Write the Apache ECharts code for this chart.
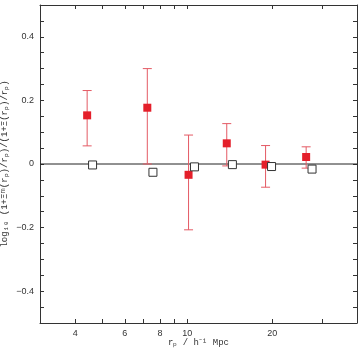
<!DOCTYPE html>
<html>
<head>
<meta charset="utf-8">
<script src="https://cdn.jsdelivr.net/npm/echarts@6/dist/echarts.min.js"></script>
<style>
  html, body { margin: 0; padding: 0; background: #fff; }
  #chart { width: 363px; height: 351px; }
</style>
</head>
<body>
<div id="chart"></div>
<script>
  // measured points (red, with errors)
  var rpMeas = [4.41, 7.21, 10.1, 13.8, 18.95, 26.4];
  var ratioMeas = [0.153, 0.177, -0.034, 0.065, -0.002, 0.022];
  var errLow = [0.057, 0.0, -0.207, -0.006, -0.073, -0.013];
  var errHigh = [0.231, 0.300, 0.091, 0.127, 0.058, 0.054];
  // model points (open squares)
  var rpModel = [4.61, 7.55, 10.6, 14.45, 19.9, 27.7];
  var ratioModel = [-0.003, -0.026, -0.009, -0.002, -0.008, -0.016];
  // ticks
  var xTicks = [4, 5, 6, 7, 8, 9, 10, 20, 30];
  var xLabels = [4, 6, 8, 10, 20];
  var yTicks = [-0.45, -0.4, -0.35, -0.3, -0.25, -0.2, -0.15, -0.1, -0.05, 0, 0.05, 0.1, 0.15, 0.2, 0.25, 0.3, 0.35, 0.4, 0.45];
  var yLabels = [-0.4, -0.2, 0, 0.2, 0.4];

  var chart = echarts.init(document.getElementById('chart'));
  var axisCol = '#333';
  var tickFont = { fontFamily: 'Liberation Sans', fontSize: 9, color: '#333' };

  function xAxisOpt(show) {
    return {
      type: 'log', logBase: 10, min: 3, max: 40, position: show ? 'bottom' : 'top',
      axisLine: { show: true, onZero: false, lineStyle: { color: axisCol, width: 1 } },
      axisTick: { show: true, inside: true, length: 4, customValues: xTicks, lineStyle: { color: axisCol } },
      axisLabel: {
        show: show, customValues: xLabels, margin: 6,
        fontFamily: tickFont.fontFamily, fontSize: tickFont.fontSize, color: tickFont.color,
        formatter: function (v) { return String(Math.round(v)); }
      },
      splitLine: { show: false }, minorTick: { show: false },
      name: show ? 'r\u209a / h\u207b\u00b9 Mpc' : '', nameLocation: 'middle', nameGap: 15,
      nameMoveOverlap: false,
      nameTextStyle: { fontFamily: 'Liberation Mono', fontSize: 9, color: '#333' }
    };
  }
  function yAxisOpt(show) {
    return {
      type: 'value', min: -0.5, max: 0.5, position: show ? 'left' : 'right',
      axisLine: { show: true, onZero: false, lineStyle: { color: axisCol, width: 1 } },
      axisTick: { show: true, inside: true, length: 4, customValues: yTicks, lineStyle: { color: axisCol } },
      axisLabel: {
        show: show, customValues: yLabels, margin: 6,
        fontFamily: tickFont.fontFamily, fontSize: tickFont.fontSize, color: tickFont.color,
        formatter: function (v) {
          if (Math.abs(v) < 1e-9) return '0';
          return (v < 0 ? '\u2212' : '') + Math.abs(v).toFixed(1);
        }
      },
      splitLine: { show: false },
      name: show ? 'log\u2081\u2080 (1+\u039e\u1d50(r\u209a)/r\u209a)/(1+\u039e(r\u209a)/r\u209a)' : '',
      nameLocation: 'middle', nameGap: 31, nameRotate: 90, nameMoveOverlap: false,
      nameTextStyle: { fontFamily: 'Liberation Mono', fontSize: 9, color: '#333' }
    };
  }

  var errData = rpMeas.map(function (x, i) { return [x, errLow[i], errHigh[i]]; });

  chart.setOption({
    animation: false,
    backgroundColor: '#fff',
    grid: { left: 40, right: 6, top: 5, bottom: 28, containLabel: false, outerBoundsMode: 'none' },
    xAxis: [xAxisOpt(true), xAxisOpt(false)],
    yAxis: [yAxisOpt(true), yAxisOpt(false)],
    series: [
      {
        type: 'line', data: [[3, 0], [40, 0]], symbol: 'none', silent: true,
        lineStyle: { color: '#222', width: 1 }, z: 1
      },
      {
        type: 'custom', data: errData, z: 2, silent: true,
        renderItem: function (params, api) {
          var lo = api.coord([api.value(0), api.value(1)]);
          var hi = api.coord([api.value(0), api.value(2)]);
          var w = 4.5;
          var style = { stroke: '#e45a64', lineWidth: 1, opacity: 1 };
          return {
            type: 'group',
            children: [
              { type: 'line', shape: { x1: lo[0], y1: lo[1], x2: hi[0], y2: hi[1] }, style: style },
              { type: 'line', shape: { x1: lo[0] - w, y1: lo[1], x2: lo[0] + w, y2: lo[1] }, style: style },
              { type: 'line', shape: { x1: hi[0] - w, y1: hi[1], x2: hi[0] + w, y2: hi[1] }, style: style }
            ]
          };
        }
      },
      {
        type: 'scatter', z: 3, symbol: 'rect', symbolSize: 8,
        data: rpMeas.map(function (x, i) { return [x, ratioMeas[i]]; }),
        itemStyle: { color: '#e41f2a', opacity: 1 }
      },
      {
        type: 'scatter', z: 3, symbol: 'rect', symbolSize: 8,
        data: rpModel.map(function (x, i) { return [x, ratioModel[i]]; }),
        itemStyle: { color: '#fff', borderColor: '#333', borderWidth: 1, opacity: 1 }
      }
    ]
  });
</script>
</body>
</html>
